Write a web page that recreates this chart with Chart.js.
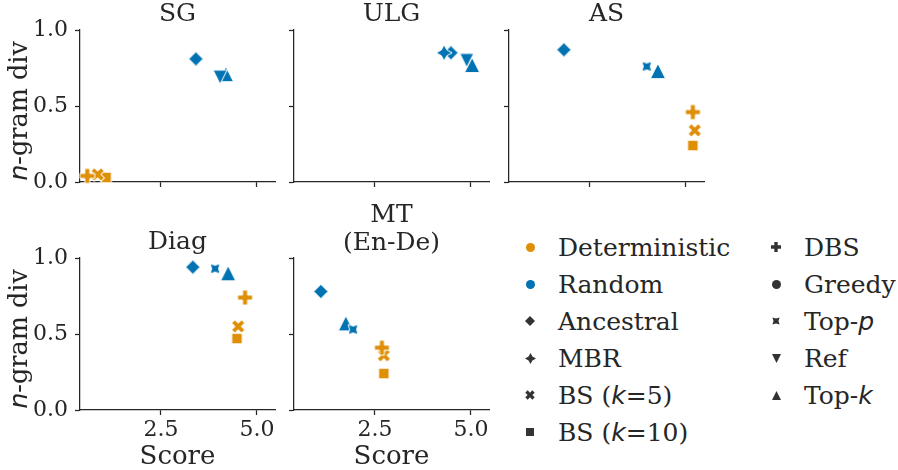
<!DOCTYPE html>
<html>
<head>
<meta charset="utf-8">
<script src="https://cdn.jsdelivr.net/npm/chart.js@4.4.1/dist/chart.umd.min.js"></script>
<style>
  body { margin: 0; background: #fff; }
  #page { position: relative; width: 898px; height: 470px; overflow: hidden; font-family: "DejaVu Serif", "DejaVuSerif", serif; color: #262626; }
  #page canvas { position: absolute; }
  .ylab { position: absolute; font-size: 25.5px; line-height: 1; white-space: nowrap; transform: translate(-50%, -50%) rotate(-90deg); }
  .m { font-family: "DejaVu Sans"; font-style: italic; }
  .leg { position: absolute; font-size: 25px; line-height: 1; white-space: nowrap; transform: translateY(-50%); }
</style>
</head>
<body>
<div id="page">
  <canvas id="c0" width="280" height="188" style="left:0px;top:0px"></canvas>
  <canvas id="c1" width="206" height="188" style="left:288px;top:0px"></canvas>
  <canvas id="c2" width="206" height="188" style="left:503px;top:0px"></canvas>
  <canvas id="c3" width="280" height="270" style="left:0px;top:200px"></canvas>
  <canvas id="c4" width="206" height="270" style="left:288px;top:200px"></canvas>
  <div class="ylab" style="left:19px;top:111px"><span class="m">n</span>-gram div</div>
  <div class="ylab" style="left:19px;top:339px"><span class="m">n</span>-gram div</div>
  <div id="legend"></div>
</div>
<script>
// values
const methods = ['MBR', 'Ancestral', 'DBS', 'BS (k=5)', 'BS (k=10)', 'Top-p', 'Ref', 'Top-k'];
const xTicks = [2.5, 5.0];
const yTicks = [0.0, 0.5, 1.0];

const sgScore   = [null, 3.41, 0.58, 0.85, 1.07, null, 4.04, 4.19];
const sgDiv     = [null, 0.81, 0.04, 0.05, 0.03, null, 0.69, 0.71];
const ulgScore  = [4.30, 4.48, null, null, null, null, 4.89, 5.03];
const ulgDiv    = [0.85, 0.85, null, null, null, null, 0.80, 0.77];
const asScore   = [null, 1.82, 5.18, 5.23, 5.18, 3.98, null, 4.27];
const asDiv     = [null, 0.87, 0.46, 0.34, 0.24, 0.76, null, 0.73];
const diagScore = [null, 3.33, 4.69, 4.51, 4.48, 3.91, null, 4.25];
const diagDiv   = [null, 0.94, 0.74, 0.55, 0.47, 0.93, null, 0.90];
const mtScore   = [null, 1.09, 2.68, 2.73, 2.73, 1.93, null, 1.74];
const mtDiv     = [null, 0.78, 0.41, 0.36, 0.24, 0.53, null, 0.57];

const xMin = 0.39, xMax = 5.47;

// styles
const serif = 'DejaVu Serif, DejaVuSerif, serif';
const blue = '#0173B2', orange = '#DE8F05', ink = '#262626', legInk = '#333333';
const shapes = ['star', 'diamond', 'plus', 'xfill', 'square', 'starx', 'tridown', 'triup'];
const colors = [blue, blue, orange, orange, orange, blue, blue, blue];
const sizes  = [8, 7.2, 7.5, 7.2, 5.3, 7, 7, 7.6];

function marker(shape, color, r, edge) {
  const s = Math.ceil(2 * r + 6);
  const c = document.createElement('canvas');
  c.width = s; c.height = s;
  const g = c.getContext('2d');
  g.translate(s / 2, s / 2);
  g.beginPath();
  if (shape === 'circle') {
    g.arc(0, 0, r, 0, Math.PI * 2);
  } else if (shape === 'diamond') {
    g.moveTo(0, -r); g.lineTo(r, 0); g.lineTo(0, r); g.lineTo(-r, 0);
  } else if (shape === 'square') {
    g.rect(-r, -r, 2 * r, 2 * r);
  } else if (shape === 'triup') {
    g.moveTo(0, -r); g.lineTo(r, r); g.lineTo(-r, r);
  } else if (shape === 'tridown') {
    g.moveTo(0, r); g.lineTo(r, -r); g.lineTo(-r, -r);
  } else if (shape === 'plus' || shape === 'xfill') {
    if (shape === 'xfill') g.rotate(Math.PI / 4);
    const w = r / 3;
    const pts = [[-w,-r],[w,-r],[w,-w],[r,-w],[r,w],[w,w],[w,r],[-w,r],[-w,w],[-r,w],[-r,-w],[-w,-w]];
    pts.forEach((p, i) => i ? g.lineTo(p[0], p[1]) : g.moveTo(p[0], p[1]));
  } else if (shape === 'star' || shape === 'starx') {
    const a0 = shape === 'star' ? -Math.PI / 2 : -Math.PI / 4;
    for (let i = 0; i < 8; i++) {
      const rr = i % 2 ? r * 0.5 : r;
      const a = a0 + i * Math.PI / 4;
      if (i) g.lineTo(rr * Math.cos(a), rr * Math.sin(a));
      else g.moveTo(rr * Math.cos(a), rr * Math.sin(a));
    }
  }
  g.closePath();
  g.fillStyle = color;
  g.fill();
  if (edge) { g.strokeStyle = edge; g.lineWidth = 1; g.stroke(); }
  return c;
}

const pointImgs = methods.map((m, i) => marker(shapes[i], colors[i], sizes[i], '#ffffff'));

const panels = [
  { id: 'c0', title: 'SG', score: sgScore, div: sgDiv, yLab: true, xLab: false, lh: 1, tpad: { top: 2, bottom: 3 } },
  { id: 'c1', title: 'ULG', score: ulgScore, div: ulgDiv, yLab: false, xLab: false, lh: 1, tpad: { top: 2, bottom: 3 } },
  { id: 'c2', title: 'AS', score: asScore, div: asDiv, yLab: false, xLab: false, lh: 1, tpad: { top: 2, bottom: 3 } },
  { id: 'c3', title: 'Diag', score: diagScore, div: diagDiv, yLab: true, xLab: true, lh: 1, tpad: { top: 30, bottom: 3 } },
  { id: 'c4', title: ['MT', '(En-De)'], score: mtScore, div: mtDiv, yLab: false, xLab: true, lh: '28px', tpad: { top: 1, bottom: 1 } }
];

function makePanel(p) {
  new Chart(document.getElementById(p.id), {
    type: 'scatter',
    data: {
      datasets: methods.map((m, i) => ({
        label: m,
        data: p.score[i] === null ? [] : [{ x: p.score[i], y: p.div[i] }],
        pointStyle: pointImgs[i],
        pointRadius: 8,
        clip: false
      }))
    },
    options: {
      responsive: false,
      animation: false,
      events: [],
      devicePixelRatio: 1,
      layout: { autoPadding: false, padding: { right: 5 } },
      plugins: {
        legend: { display: false },
        tooltip: { enabled: false },
        title: {
          display: true, text: p.title, color: ink, fullSize: false,
          font: { family: serif, size: 25, weight: 'normal', lineHeight: p.lh },
          padding: p.tpad
        }
      },
      scales: {
        x: {
          type: 'linear', min: xMin, max: xMax,
          afterBuildTicks: s => { s.ticks = xTicks.map(v => ({ value: v })); },
          afterFit: s => { s.height = p.xLab ? 60 : 6; s.paddingLeft = 0; s.paddingRight = 0; },
          ticks: {
            display: p.xLab, callback: v => v.toFixed(1), color: ink, padding: 2,
            font: { family: serif, size: 22 }, maxRotation: 0
          },
          grid: { drawOnChartArea: false, tickLength: 5, tickWidth: 1.25, tickColor: ink },
          border: { color: ink, width: 1.25 },
          title: {
            display: p.xLab, text: 'Score', color: ink,
            font: { family: serif, size: 26, lineHeight: 1 },
            padding: { top: 0, bottom: 0 }
          }
        },
        y: {
          type: 'linear', min: 0, max: 1,
          afterBuildTicks: s => { s.ticks = yTicks.map(v => ({ value: v })); },
          afterFit: s => { s.width = p.yLab ? 80 : 6; s.paddingTop = 0; s.paddingBottom = 0; },
          ticks: {
            display: p.yLab, callback: v => v.toFixed(1), color: ink, padding: 7,
            font: { family: serif, size: 22 }
          },
          grid: { drawOnChartArea: false, tickLength: 5, tickWidth: 1.25, tickColor: ink },
          border: { color: ink, width: 1.25 }
        }
      }
    }
  });
}

panels.forEach(makePanel);

// legend
const legendItems = [
  { html: 'Deterministic', shape: 'circle', color: orange, x: 530, y: 247 },
  { html: 'Random', shape: 'circle', color: blue, x: 530, y: 284 },
  { html: 'Ancestral', shape: 'diamond', color: legInk, x: 530, y: 321 },
  { html: 'MBR', shape: 'star', color: legInk, x: 530, y: 358 },
  { html: 'BS (<span class="m">k</span>=5)', shape: 'xfill', color: legInk, x: 530, y: 395 },
  { html: 'BS (<span class="m">k</span>=10)', shape: 'square', color: legInk, x: 530, y: 432 },
  { html: 'DBS', shape: 'plus', color: legInk, x: 776, y: 247 },
  { html: 'Greedy', shape: 'circle', color: legInk, x: 776, y: 284 },
  { html: 'Top-<span class="m">p</span>', shape: 'starx', color: legInk, x: 776, y: 321 },
  { html: 'Ref', shape: 'tridown', color: legInk, x: 776, y: 358 },
  { html: 'Top-<span class="m">k</span>', shape: 'triup', color: legInk, x: 776, y: 395 }
];
const legendSizes = { circle: 4.5, diamond: 5, star: 5.5, xfill: 5, square: 4, plus: 5, starx: 5, tridown: 4.5, triup: 4.5 };
const legend = document.getElementById('legend');
legendItems.forEach(it => {
  const c = marker(it.shape, it.color, legendSizes[it.shape], null);
  c.style.left = (it.x - c.width / 2) + 'px';
  c.style.top = (it.y - c.height / 2) + 'px';
  legend.appendChild(c);
  const d = document.createElement('div');
  d.className = 'leg';
  d.style.left = (it.x + 28) + 'px';
  d.style.top = it.y + 'px';
  d.innerHTML = it.html;
  legend.appendChild(d);
});
</script>
</body>
</html>
